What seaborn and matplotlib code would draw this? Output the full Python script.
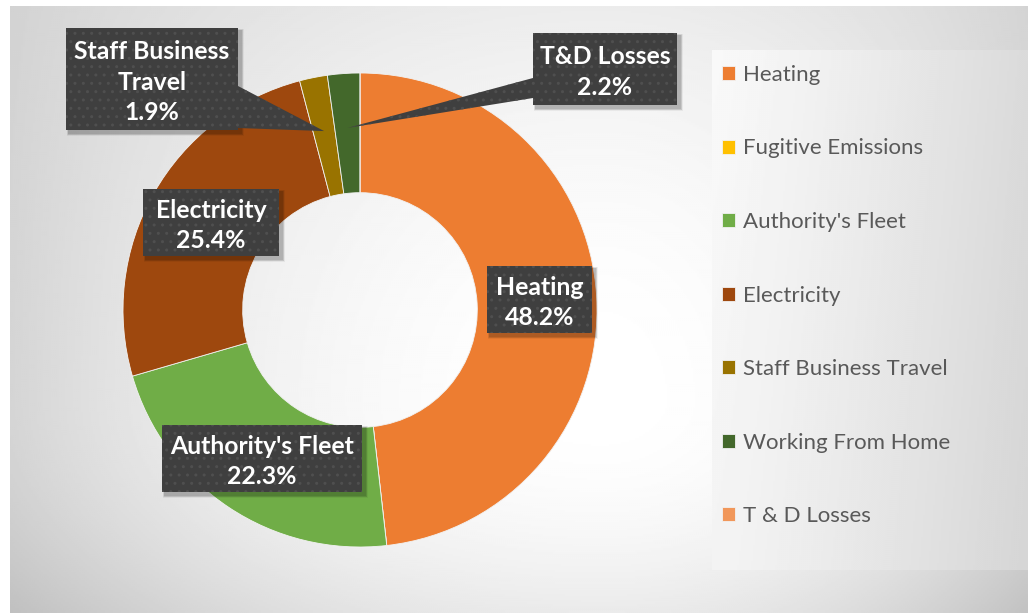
import numpy as np
import matplotlib.pyplot as plt
import seaborn as sns
from matplotlib.patches import Rectangle, Polygon

categories = ['Heating', 'Fugitive Emissions', "Authority's Fleet", 'Electricity',
              'Staff Business Travel', 'Working From Home', 'T & D Losses']
shares = [48.2, 0.0, 22.3, 25.4, 1.9, 2.2, 0.0]
colors = ['#ED7D31', '#FFC000', '#70AD47', '#9E480E', '#997300', '#43682B', '#F1975A']
# callout text per slice (the 2.2% slice carries the "T&D Losses" label in the source)
callout_names = ['Heating', None, "Authority's Fleet", 'Electricity',
                 'Staff Business\nTravel', 'T&D Losses', None]

sns.set_theme(style='white')
plt.rcParams['font.family'] = ['Lato', 'DejaVu Sans']
plt.rcParams['hatch.linewidth'] = 1.0

W, H = 1028, 613
fig = plt.figure(figsize=(W / 100, H / 100), dpi=100)
fig.patch.set_facecolor('white')

# background layer in pixel coordinates
bg = fig.add_axes([0, 0, 1, 1], zorder=0)
bg.set_xlim(0, W)
bg.set_ylim(H, 0)
bg.axis('off')

yy, xx = np.mgrid[6:H:2, 10:W:2].astype(float)
u = np.where(xx < 600, (xx - 600) / 580, (xx - 600) / 430)
wt = np.clip((400 - yy) / 380, 0, None)
wb = np.clip((yy - 400) / 210, 0, None)
grad = 1 - 0.16 * u ** 2 - 0.08 * wb ** 2 - 0.07 * wt ** 2 + 0.06 * u ** 2 * wt ** 2
bg.imshow(grad, extent=(10, W, H, 6), cmap='gray', vmin=0, vmax=1,
          aspect='auto', interpolation='bilinear')

# legend panel
yy2, xx2 = np.mgrid[50:570:2, 712:W:2].astype(float)
t = (xx2 - 712) / (W - 712)
grad2 = 0.975 - 0.12 * t ** 1.2 - 0.02 * ((yy2 - 50) / 520)
bg.imshow(grad2, extent=(712, W, 570, 50), cmap='gray', vmin=0, vmax=1,
          aspect='auto', interpolation='bilinear')

# donut
R = 237
cx, cy = 360, 310
pax = fig.add_axes([(cx - R) / W, (H - cy - R) / H, 2 * R / W, 2 * R / H], zorder=1)
wedges, _ = pax.pie(shares, colors=colors, startangle=90, counterclock=False,
                    radius=1, wedgeprops=dict(width=0.505, edgecolor='#f2f2f2', linewidth=0.6))
pax.set_xlim(-1, 1)
pax.set_ylim(-1, 1)

# callouts layer
ov = fig.add_axes([0, 0, 1, 1], zorder=2)
ov.set_xlim(0, W)
ov.set_ylim(H, 0)
ov.axis('off')
ov.patch.set_visible(False)

# box extents (left, top, right, bottom) and pointer base on box edge
boxes = {
    0: ((487, 266, 592, 333), None),
    2: ((162, 425, 362, 492), None),
    3: ((143, 189, 279, 256), None),
    4: ((66, 28, 238, 130), [(238, 86), (238, 128)]),
    5: ((533, 33, 677, 105), [(533, 78), (533, 98)]),
}

box_style = dict(facecolor='#3f3f3f', edgecolor='#4f4f4f', hatch='..', linewidth=0)


def slice_tip(w, frac=0.77):
    th = np.deg2rad((w.theta1 + w.theta2) / 2)
    p = pax.transData.transform((frac * np.cos(th), frac * np.sin(th)))
    return ov.transData.inverted().transform(p)


for i, ((x0, y0, x1, y1), base) in boxes.items():
    # soft shadow
    for k, a in [(5, 0.05), (4, 0.06), (3, 0.08), (2, 0.1)]:
        ov.add_patch(Rectangle((x0 + 3 - k / 2, y0 + 3 - k / 2), x1 - x0 + k, y1 - y0 + k,
                               facecolor='black', alpha=a, linewidth=0))
    if base is not None:
        tip = slice_tip(wedges[i])
        ov.add_patch(Polygon([base[0], tuple(tip), base[1]], closed=True, **box_style))
    ov.add_patch(Rectangle((x0, y0), x1 - x0, y1 - y0, **box_style))
    ov.text((x0 + x1) / 2, (y0 + y1) / 2 + 3, f"{callout_names[i]}\n{shares[i]:.1f}%",
            ha='center', va='center', color='white', fontsize=17.8, fontweight='bold',
            linespacing=1.4)

fig.legend(wedges, categories, loc='upper left', bbox_to_anchor=(713 / W, 1 - 56 / H),
           frameon=False, fontsize=16, handlelength=0.6, handleheight=0.6,
           handletextpad=0.35, labelspacing=2.41, labelcolor='#595959', borderaxespad=0)

fig.savefig('out.png', dpi=100)
